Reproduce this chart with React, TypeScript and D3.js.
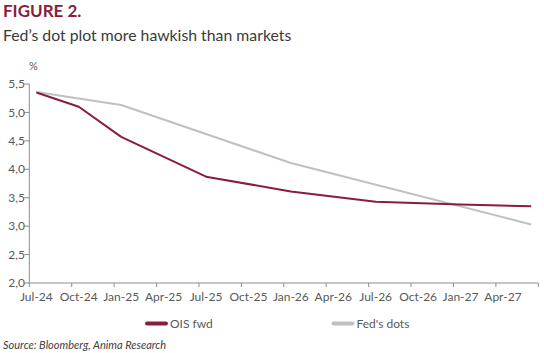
import React, { useEffect, useRef } from "react";
import * as d3 from "d3";

// monthly categories, Jul-24 .. Jun-27
const monthNames = ["Jan", "Feb", "Mar", "Apr", "May", "Jun", "Jul", "Aug", "Sep", "Oct", "Nov", "Dec"];
const months: string[] = [];
for (let y = 24; y <= 27; y++) {
  for (let m = 0; m < 12; m++) {
    if ((y === 24 && m < 6) || (y === 27 && m > 5)) continue;
    months.push(`${monthNames[m]}-${y}`);
  }
}

const yTicks = [2.0, 2.5, 3.0, 3.5, 4.0, 4.5, 5.0, 5.5];

// values read at the line vertices
const oisMonths = ["Jul-24", "Oct-24", "Jan-25", "Jul-25", "Jan-26", "Jul-26", "Jan-27", "Jun-27"];
const oisValues = [5.35, 5.1, 4.57, 3.87, 3.61, 3.43, 3.38, 3.35];

const fedMonths = ["Jul-24", "Jan-25", "Jan-26", "Jun-27"];
const fedValues = [5.36, 5.13, 4.11, 3.03];

const seriesNames = ["OIS fwd", "Fed's dots"];
const seriesColors = ["#8a1c3c", "#c0c0c0"];

const LineChart = () => {
  const svgRef = useRef<SVGSVGElement>(null);

  useEffect(() => {
    const svg = d3.select(svgRef.current);
    svg.selectAll("*").remove();

    const left = 29.3;
    const right = 538.3;
    const top = 84;
    const bottom = 283;
    const font = "Lato, 'Open Sans', sans-serif";

    const xScale = d3.scalePoint<string>().domain(months).range([left, right]).padding(0.5);
    const step = xScale.step();
    const yScale = d3.scaleLinear().domain([2, 5.5]).range([bottom, top]);

    // title
    svg.append("text").attr("x", 3).attr("y", 16.8).attr("font-family", font).attr("font-weight", "bold")
      .attr("font-size", 17).attr("fill", "#8a1c3c").text("FIGURE 2.");
    svg.append("text").attr("x", 3).attr("y", 40.7).attr("font-family", font)
      .attr("font-size", 15.8).attr("fill", "#3a3a3a").text("Fed\u2019s dot plot more hawkish than markets");

    // Y axis
    const axisColor = "#8c8c8c";
    svg.append("line").attr("x1", left).attr("x2", left).attr("y1", top).attr("y2", bottom)
      .attr("stroke", axisColor).attr("stroke-width", 1);
    svg.selectAll(".ytick").data(yTicks).enter().append("line")
      .attr("x1", left - 5).attr("x2", left)
      .attr("y1", (d) => yScale(d)).attr("y2", (d) => yScale(d))
      .attr("stroke", axisColor);
    svg.selectAll(".ylab").data(yTicks).enter().append("text")
      .attr("x", 25).attr("y", (d) => yScale(d)).attr("dy", "0.35em")
      .attr("text-anchor", "end").attr("font-family", font).attr("font-size", 12).attr("fill", "#595959")
      .text((d) => d.toFixed(1).replace(".", ","));
    svg.append("text").attr("x", 29).attr("y", 70).attr("font-family", font).attr("font-size", 11)
      .attr("fill", "#595959").text("%");

    // X axis
    svg.append("line").attr("x1", left).attr("x2", right).attr("y1", bottom).attr("y2", bottom)
      .attr("stroke", axisColor);
    const tickMonths = months.filter((_, i) => i % 3 === 0);
    svg.selectAll(".xtick").data([...tickMonths, "end"]).enter().append("line")
      .attr("x1", (d) => (d === "end" ? right : (xScale(d) as number) - step / 2))
      .attr("x2", (d) => (d === "end" ? right : (xScale(d) as number) - step / 2))
      .attr("y1", bottom).attr("y2", bottom + 4)
      .attr("stroke", axisColor);
    svg.selectAll(".xlab").data(tickMonths).enter().append("text")
      .attr("x", (d) => xScale(d) as number).attr("y", 301)
      .attr("text-anchor", "middle").attr("font-family", font).attr("font-size", 12).attr("fill", "#595959")
      .text((d) => d);

    const line = d3.line<[string, number]>()
      .x((d) => xScale(d[0]) as number)
      .y((d) => yScale(d[1]));

    const series: [string, number][][] = [
      oisMonths.map((m, i) => [m, oisValues[i]]),
      fedMonths.map((m, i) => [m, fedValues[i]]),
    ];

    // grey first, red on top
    [1, 0].forEach((s) => {
      svg.append("path").datum(series[s]).attr("d", line).attr("fill", "none")
        .attr("stroke", seriesColors[s]).attr("stroke-width", 2).attr("stroke-linejoin", "round");
    });

    // legend
    const legendX = [147, 333.5];
    seriesNames.forEach((name, i) => {
      svg.append("line").attr("x1", legendX[i]).attr("x2", legendX[i] + 19)
        .attr("y1", 323.5).attr("y2", 323.5)
        .attr("stroke", seriesColors[i]).attr("stroke-width", 4).attr("stroke-linecap", "round");
      svg.append("text").attr("x", legendX[i] + 23).attr("y", 323.5).attr("dy", "0.35em")
        .attr("font-family", font).attr("font-size", 12).attr("fill", "#595959").text(name);
    });

    svg.append("text").attr("x", 3).attr("y", 349).attr("font-family", font).attr("font-style", "italic")
      .attr("font-size", 11).attr("fill", "#404040").text("Source: Bloomberg, Anima Research");
  }, []);

  return <svg ref={svgRef} width={544} height={353} style={{ display: "block" }}></svg>;
};

export default function App() {
  return (
    <div style={{ position: "absolute", left: 0, top: 0 }}>
      <LineChart />
    </div>
  );
}
